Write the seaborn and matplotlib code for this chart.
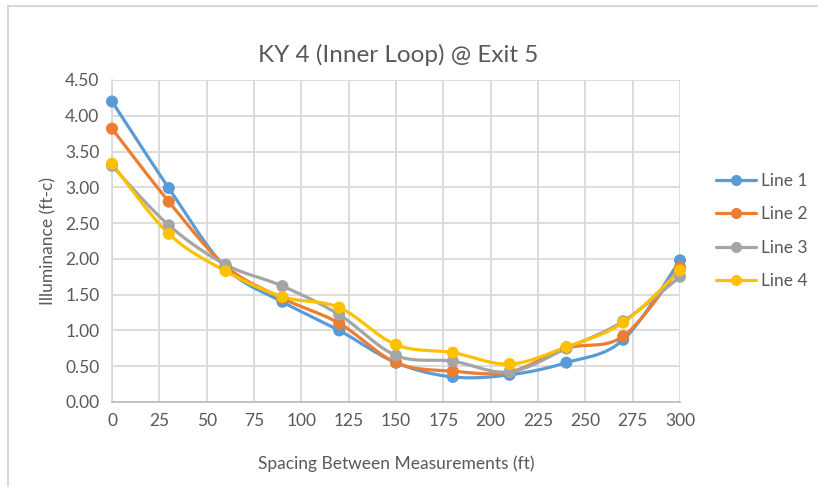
import numpy as np
import pandas as pd
import matplotlib
matplotlib.use("Agg")
import matplotlib.pyplot as plt
from matplotlib.lines import Line2D
from matplotlib.patches import Rectangle
import seaborn as sns

# Measurement positions (ft) and illuminance readings (ft-c) per line
spacing = [0, 30, 60, 90, 120, 150, 180, 210, 240, 270, 300]
line_1 = [4.20, 2.99, 1.88, 1.40, 1.00, 0.55, 0.35, 0.38, 0.55, 0.87, 1.98]
line_2 = [3.82, 2.80, 1.90, 1.45, 1.10, 0.55, 0.43, 0.42, 0.75, 0.92, 1.88]
line_3 = [3.30, 2.47, 1.92, 1.62, 1.22, 0.65, 0.57, 0.42, 0.75, 1.13, 1.75]
line_4 = [3.33, 2.35, 1.83, 1.47, 1.32, 0.80, 0.69, 0.53, 0.77, 1.11, 1.84]
series_names = ["Line 1", "Line 2", "Line 3", "Line 4"]
x_ticks = list(range(0, 301, 25))
y_ticks = [0.0, 0.5, 1.0, 1.5, 2.0, 2.5, 3.0, 3.5, 4.0, 4.5]

colors = ["#5B9BD5", "#ED7D31", "#A5A5A5", "#FFC000"]
text_color = "#595959"

sns.set_theme(style="white")
plt.rcParams["font.family"] = ["Lato", "DejaVu Sans"]

raw = pd.DataFrame({
    "spacing": spacing * 4,
    "value": line_1 + line_2 + line_3 + line_4,
    "series": sum([[n] * len(spacing) for n in series_names], []),
})


def smooth_path(xs, ys, steps=24):
    """Cubic Bezier path through the points (Catmull-Rom style tangents)."""
    p = np.column_stack([xs, ys]).astype(float)
    n = len(p)
    out = [p[0]]
    t = np.linspace(0, 1, steps + 1)[1:, None]
    for i in range(n - 1):
        p0 = p[max(i - 1, 0)]
        p1 = p[i]
        p2 = p[i + 1]
        p3 = p[min(i + 2, n - 1)]
        c1 = p1 + (p2 - p0) / 6.0
        c2 = p2 - (p3 - p1) / 6.0
        seg = ((1 - t) ** 3) * p1 + 3 * ((1 - t) ** 2) * t * c1 + 3 * (1 - t) * t ** 2 * c2 + t ** 3 * p2
        out.extend(seg)
    out = np.array(out)
    return out[:, 0], out[:, 1]


curves = []
for name in series_names:
    sub = raw[raw["series"] == name]
    sx, sy = smooth_path(sub["spacing"].values, sub["value"].values)
    curves.append(pd.DataFrame({"spacing": sx, "value": sy, "series": name,
                                "order": np.arange(len(sx))}))
curves = pd.concat(curves, ignore_index=True)

fig = plt.figure(figsize=(8.18, 4.87), dpi=100)
fig.patch.set_facecolor("white")
ax = fig.add_axes([112 / 818, 1 - 402 / 487, (680 - 112) / 818, (402 - 80) / 487])

palette = dict(zip(series_names, colors))
sns.lineplot(data=curves, x="spacing", y="value", hue="series", palette=palette,
             sort=False, estimator=None, units="series", linewidth=2.3,
             legend=False, ax=ax, zorder=2)
sns.scatterplot(data=raw, x="spacing", y="value", hue="series", palette=palette,
                s=75, edgecolor="none", legend=False, ax=ax, zorder=3, clip_on=False)

ax.set_xlim(0, 300)
ax.set_ylim(0, 4.5)
ax.set_xticks(x_ticks)
ax.set_yticks(y_ticks)
ax.set_yticklabels([f"{v:.2f}" for v in y_ticks])
ax.grid(True, color="#D9D9D9", linewidth=1.3)
ax.set_axisbelow(True)
for side in ["top", "right"]:
    ax.spines[side].set_visible(False)
ax.spines["left"].set_color("#D9D9D9")
ax.spines["bottom"].set_color("#BFBFBF")
ax.spines["left"].set_linewidth(1.3)
ax.spines["bottom"].set_linewidth(1.3)
ax.tick_params(axis="both", length=0, labelsize=12.5, labelcolor=text_color)
ax.tick_params(axis="x", pad=8)
ax.tick_params(axis="y", pad=9)

ax.set_xlabel("Spacing Between Measurements (ft)", fontsize=12.5, color=text_color, labelpad=19)
ax.set_ylabel("Illuminance (ft-c)", fontsize=12.5, color=text_color, labelpad=6)
fig.text(398 / 818, 1 - 55 / 487, "KY 4 (Inner Loop) @ Exit 5", ha="center", va="center",
         fontsize=17.5, color=text_color)

handles = [Line2D([0], [0], color=c, linewidth=2.3, marker="o", markersize=8,
                  markeredgewidth=0) for c in colors]
fig.legend(handles, series_names, loc="center left", bbox_to_anchor=(700 / 818, 1 - 231 / 487),
           frameon=False, fontsize=12.5, labelcolor=text_color, handlelength=2.3,
           handletextpad=0.3, labelspacing=1.0)

# Chart frame
fig.patches.append(Rectangle((8 / 818, -0.1), 1.1, 1 - 6 / 487 + 0.1, transform=fig.transFigure,
                             fill=False, edgecolor="#D9D9D9", linewidth=1.5, zorder=0))

fig.savefig("out.png", dpi=100, facecolor="white")
